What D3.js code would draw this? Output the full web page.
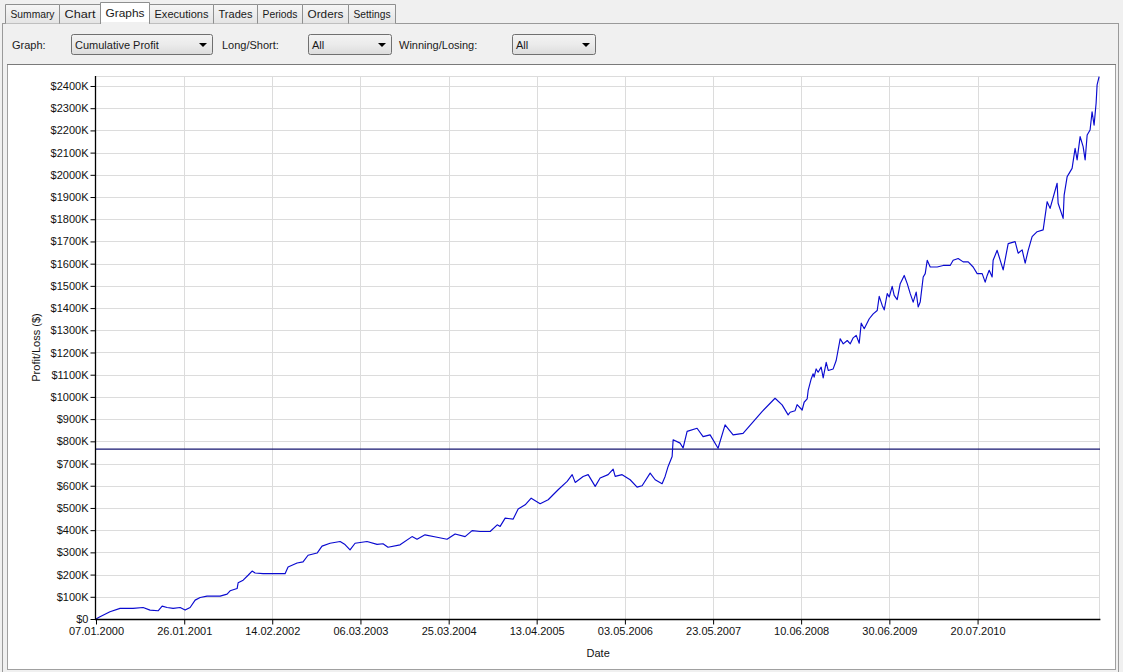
<!DOCTYPE html>
<html>
<head>
<meta charset="utf-8">
<script src="https://cdn.jsdelivr.net/npm/d3@7"></script>
<style>
html,body{margin:0;padding:0;background:#f0f0f0;overflow:hidden}
svg{display:block;font-family:"Liberation Sans",Arial,sans-serif}
</style>
</head>
<body>
<svg id="chart" width="1123" height="672"></svg>
<script>
// ---------------- DATA ----------------
const tabLabels = ["Summary","Chart","Graphs","Executions","Trades","Periods","Orders","Settings"];
const selectedTab = "Graphs";
const filterLabels = ["Graph:","Long/Short:","Winning/Losing:"];
const filterValues = ["Cumulative Profit","All","All"];

const yTickValues = [0,100,200,300,400,500,600,700,800,900,1000,1100,1200,1300,1400,1500,1600,1700,1800,1900,2000,2100,2200,2300,2400]; // $K
const xTickLabels = ["07.01.2000","26.01.2001","14.02.2002","06.03.2003","25.03.2004","13.04.2005","03.05.2006","23.05.2007","10.06.2008","30.06.2009","20.07.2010"];
const xDomainLabels = ["07.01.2000","07.01.2012"];
const yAxisTitle = "Profit/Loss ($)";
const xAxisTitle = "Date";
const referenceLevelK = 765;

// decimal years of the cumulative profit curve
const dateYears = [
2000.016,2000.064,2000.183,2000.303,2000.458,2000.578,2000.661,2000.757,2000.805,2000.864,
2000.936,2001.020,2001.079,2001.139,2001.199,2001.259,2001.342,2001.414,2001.498,2001.581,
2001.617,2001.701,2001.713,2001.773,2001.832,2001.880,2001.916,2002.011,2002.274,2002.310,
2002.418,2002.489,2002.549,2002.657,2002.716,2002.812,2002.932,2002.991,2003.051,2003.111,
2003.254,2003.374,2003.445,2003.505,2003.649,2003.792,2003.852,2003.947,2004.091,2004.210,
2004.306,2004.425,2004.509,2004.604,2004.724,2004.808,2004.843,2004.903,2004.999,2005.058,
2005.142,2005.214,2005.321,2005.417,2005.536,2005.644,2005.704,2005.740,2005.835,2005.895,
2005.979,2006.038,2006.134,2006.194,2006.218,2006.301,2006.397,2006.480,2006.540,2006.636,
2006.696,2006.779,2006.815,2006.851,2006.899,2006.911,2006.994,2007.030,2007.078,2007.197,
2007.269,2007.353,2007.448,2007.532,2007.628,2007.747,2007.867,2007.974,2008.129,2008.213,
2008.285,
2008.309,2008.368,2008.392,2008.452,2008.476,2008.512,2008.524,2008.560,2008.583,2008.595,
2008.619,2008.643,2008.679,2008.703,2008.739,2008.763,2008.822,2008.858,2008.906,2008.942,
2008.990,2009.026,2009.061,2009.097,2009.133,2009.157,2009.193,2009.253,2009.300,2009.348,
2009.372,2009.408,2009.432,2009.468,2009.492,2009.527,2009.551,2009.587,2009.623,2009.671,
2009.707,2009.743,2009.778,2009.814,2009.838,2009.862,2009.898,2009.922,2009.946,2009.982,
2010.065,2010.137,2010.220,2010.256,2010.316,2010.376,2010.436,2010.495,2010.543,2010.603,
2010.639,2010.663,2010.687,2010.722,2010.734,2010.782,
2010.854,2010.914,2010.997,2011.033,2011.081,2011.117,2011.153,2011.200,2011.260,2011.332,
2011.380,2011.415,2011.499,2011.511,2011.571,2011.583,2011.619,2011.678,2011.714,2011.738,
2011.774,2011.810,2011.834,2011.858,2011.893,2011.917,2011.941,2011.965,2011.977,2012.001
];
// cumulative profit in $K
const profitK = [
0,10,33,48,48,52,40,37,58,52,
48,52,40,52,85,97,103,103,103,112,
127,137,163,175,197,216,207,204,204,234,
252,257,287,297,328,341,349,335,311,341,
349,336,339,323,334,371,359,379,368,359,
383,371,398,394,394,424,417,454,450,495,
514,544,519,537,582,620,650,615,642,650,
597,635,650,675,642,650,627,594,600,657,
627,609,642,687,732,807,792,770,845,859,
821,829,769,874,829,836,888,934,994,964,
919,
931,938,965,941,976,991,1029,1081,1104,1089,
1126,1111,1134,1086,1156,1119,1126,1164,1262,1239,
1254,1239,1266,1277,1242,1332,1307,1352,1374,1389,
1453,1412,1392,1465,1450,1498,1457,1438,1510,1547,
1510,1465,1427,1472,1405,1427,1540,1555,1615,1585,
1585,1592,1592,1615,1623,1608,1608,1585,1555,1555,
1517,1547,1570,1540,1615,1660,
1572,1690,1699,1647,1662,1602,1660,1722,1744,1752,
1879,1849,1962,1872,1804,1909,1992,2029,2119,2067,
2172,2127,2067,2179,2202,2284,2224,2322,2405,2442
];

// ---------------- LAYOUT ----------------
const W = 1123, H = 672;
const plot = {left: 96, right: 1100.4, top: 76, bottom: 619};
const tabEdges = [5,59,100,149,213,257,302,348,395];
const comboBoxes = [{lx:12, x:71, w:141},{lx:222, x:308, w:83},{lx:399, x:512, w:83}];

const svg = d3.select("#chart");
const parse = d3.utcParse("%d.%m.%Y");
function yearToDate(yr){
  const y0 = Math.floor(yr);
  const s = Date.UTC(y0,0,1), e = Date.UTC(y0+1,0,1);
  return new Date(s + (yr - y0) * (e - s));
}
const series = dateYears.map((yr,i)=>({date: yearToDate(yr), v: profitK[i]}));

// ---------- window chrome ----------
svg.append("rect").attr("x",0).attr("y",0).attr("width",W).attr("height",H).attr("fill","#f0f0f0");
svg.append("rect").attr("x",2.5).attr("y",23.5).attr("width",1116).attr("height",660)
  .attr("fill","#f0f0f0").attr("stroke","#9a9a9a");
const defs = svg.append("defs");
const tg = defs.append("linearGradient").attr("id","tabg").attr("x1",0).attr("y1",0).attr("x2",0).attr("y2",1);
tg.append("stop").attr("offset","0").attr("stop-color","#f6f6f6");
tg.append("stop").attr("offset","1").attr("stop-color","#e4e4e4");
const cg = defs.append("linearGradient").attr("id","combog").attr("x1",0).attr("y1",0).attr("x2",0).attr("y2",1);
cg.append("stop").attr("offset","0").attr("stop-color","#f3f3f3");
cg.append("stop").attr("offset","0.5").attr("stop-color","#ebebeb");
cg.append("stop").attr("offset","1").attr("stop-color","#dcdcdc");

tabLabels.forEach((t,i)=>{
  const x0 = tabEdges[i], x1 = tabEdges[i+1];
  const sel = t === selectedTab;
  const top = sel ? 2.5 : 4.5;
  const bot = sel ? 24 : 23.5;
  svg.append("path")
    .attr("d",`M${x0+0.5},${bot} L${x0+0.5},${top} L${x1+0.5},${top} L${x1+0.5},${bot}`)
    .attr("fill", sel ? "#ffffff" : "url(#tabg)")
    .attr("stroke","#8e8f8f");
  svg.append("text").attr("x",(x0+x1)/2+0.5).attr("y",sel?16.5:17.5)
    .attr("text-anchor","middle").attr("font-size","11px").attr("fill","#1a1a1a")
    .attr("textLength", (x1-x0)-10).attr("lengthAdjust","spacingAndGlyphs")
    .text(t);
});
{
  const i = tabLabels.indexOf(selectedTab);
  svg.append("rect").attr("x",tabEdges[i]+1).attr("y",22).attr("width",tabEdges[i+1]-tabEdges[i]-1).attr("height",3).attr("fill","#f0f0f0");
}

filterLabels.forEach((lab,i)=>{
  const c = comboBoxes[i];
  svg.append("text").attr("x",c.lx).attr("y",49).attr("font-size","11px").attr("fill","#1a1a1a").text(lab);
  svg.append("rect").attr("x",c.x+0.5).attr("y",34.5).attr("width",c.w).attr("height",20).attr("rx",2)
    .attr("fill","url(#combog)").attr("stroke","#707070");
  svg.append("text").attr("x",c.x+4).attr("y",49).attr("font-size","11px").attr("fill","#1a1a1a").text(filterValues[i]);
  const ax = c.x + c.w - 9, ay = 43;
  svg.append("path").attr("d",`M${ax-4},${ay} L${ax+4},${ay} L${ax},${ay+4} Z`).attr("fill","#000");
});

svg.append("rect").attr("x",7.5).attr("y",64.5).attr("width",1108).attr("height",605)
  .attr("fill","#ffffff").attr("stroke","#a0a0a0");
svg.append("line").attr("x1",7).attr("x2",1116).attr("y1",64.5).attr("y2",64.5).attr("stroke","#7a7a7a");

// ---------- scales ----------
const x = d3.scaleUtc().domain(xDomainLabels.map(parse)).range([plot.left, plot.right]);
const y = d3.scaleLinear().domain([0, 2445]).range([plot.bottom, plot.top]);
const xTickDates = xTickLabels.map(parse);

// ---------- grid ----------
const grid = svg.append("g").attr("stroke","#dcdcdc").attr("stroke-width",1);
yTickValues.filter(v=>v>0).forEach(v=>{
  const yy = Math.round(y(v))+0.5;
  grid.append("line").attr("x1",plot.left).attr("x2",1099.5).attr("y1",yy).attr("y2",yy);
});
xTickDates.slice(1).forEach(d=>{
  const xx = Math.round(x(d))+0.5;
  grid.append("line").attr("x1",xx).attr("x2",xx).attr("y1",plot.top).attr("y2",plot.bottom);
});
grid.append("line").attr("x1",plot.left).attr("x2",1099.5).attr("y1",76.5).attr("y2",76.5);
grid.append("line").attr("x1",1099.5).attr("x2",1099.5).attr("y1",76.5).attr("y2",plot.bottom);

// ---------- reference level ----------
svg.append("line").attr("x1",plot.left).attr("x2",1100).attr("y1",y(referenceLevelK)).attr("y2",y(referenceLevelK))
  .attr("stroke","#141470").attr("stroke-width",1.2);

// ---------- profit line ----------
svg.append("path").datum(series)
  .attr("d", d3.line().x(d=>x(d.date)).y(d=>y(d.v)))
  .attr("fill","none").attr("stroke","#0a0ad0").attr("stroke-width",1.15).attr("stroke-linejoin","round");

// ---------- axes ----------
const yAxis = d3.axisLeft(y).tickValues(yTickValues).tickSize(5).tickSizeOuter(0).tickPadding(2)
  .tickFormat(v => v === 0 ? "$0" : "$" + v + "K");
const gy = svg.append("g").attr("transform",`translate(95.5,0)`).call(yAxis);
gy.select(".domain").attr("d",`M0,${plot.top}V${plot.bottom+0.5}`).attr("stroke","#000").attr("stroke-width",1.3);
gy.selectAll(".tick line").attr("stroke","#000");
gy.selectAll(".tick text").attr("font-size","11px").attr("font-family","Liberation Sans, Arial, sans-serif").attr("fill","#111");

const xAxis = d3.axisBottom(x).tickValues(xTickDates).tickSize(5).tickSizeOuter(0).tickPadding(3)
  .tickFormat(d3.utcFormat("%d.%m.%Y"));
const gx = svg.append("g").attr("transform",`translate(0,${plot.bottom+0.5})`).call(xAxis);
gx.select(".domain").attr("d",`M95,0H${plot.right}`).attr("stroke","#000").attr("stroke-width",1.3);
gx.selectAll(".tick line").attr("stroke","#000");
gx.selectAll(".tick text").attr("font-size","11px").attr("font-family","Liberation Sans, Arial, sans-serif").attr("fill","#111");

// ---------- axis titles ----------
svg.append("text").attr("transform",`translate(40,${(plot.top+plot.bottom)/2}) rotate(-90)`)
  .attr("text-anchor","middle").attr("font-size","11px").attr("fill","#111").text(yAxisTitle);
svg.append("text").attr("x",(plot.left+plot.right)/2).attr("y",657)
  .attr("text-anchor","middle").attr("font-size","11px").attr("fill","#111").text(xAxisTitle);
</script>
</body>
</html>
